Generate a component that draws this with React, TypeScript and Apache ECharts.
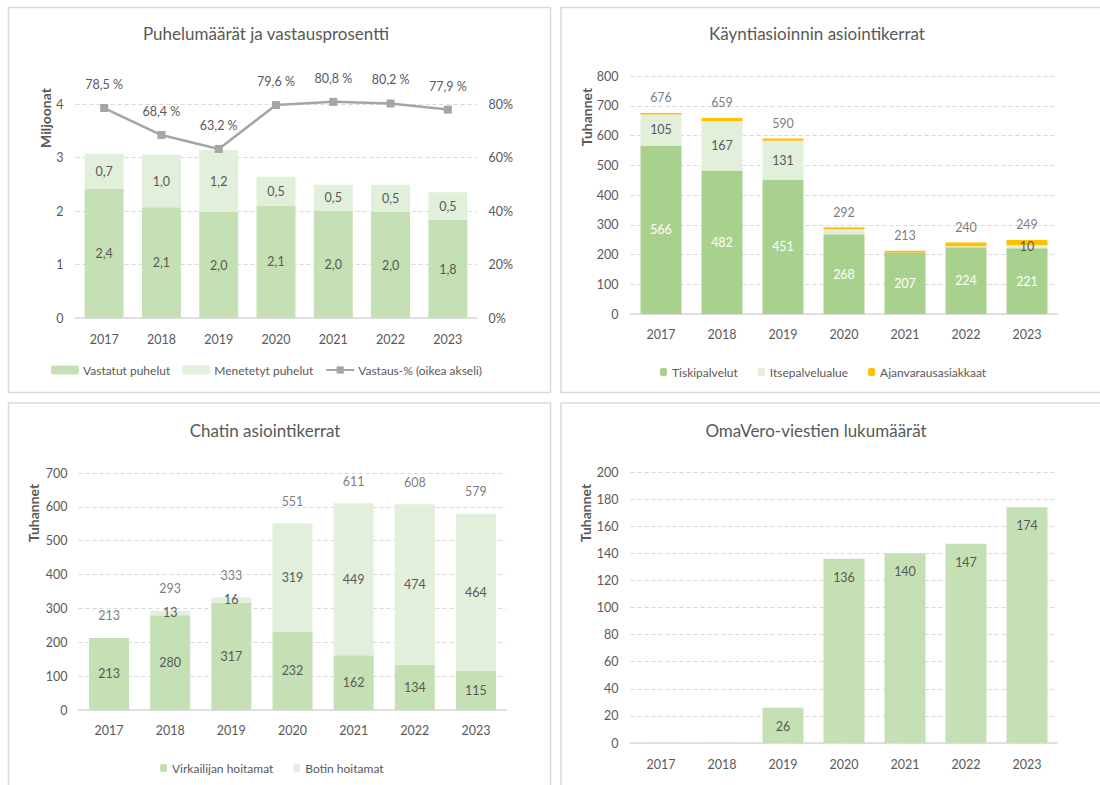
import React, { useEffect, useRef } from 'react';
import * as echarts from 'echarts';

const years = ['2017', '2018', '2019', '2020', '2021', '2022', '2023'];

// Puhelumäärät (miljoonat)
const vastatut = [2.41, 2.07, 1.98, 2.1, 2.0, 1.98, 1.83];
const menetetyt = [0.66, 0.98, 1.16, 0.54, 0.49, 0.51, 0.52];
const vastausPct = [78.5, 68.4, 63.2, 79.6, 80.8, 80.2, 77.9];

// Käyntiasiointi (tuhannet)
const tiski = [566, 482, 451, 268, 207, 224, 221];
const itse = [105, 167, 131, 17, 0, 4, 10];
const ajanvaraus = [5, 10, 8, 7, 6, 12, 18];
const kayntiTotals = [676, 659, 590, 292, 213, 240, 249];
const itseLabelShown = [true, true, true, false, false, false, true];

// Chat (tuhannet)
const virkailija = [213, 280, 317, 232, 162, 134, 115];
const botti = [0, 13, 16, 319, 449, 474, 464];
const chatTotals = [213, 293, 333, 551, 611, 608, 579];

// OmaVero (tuhannet)
const omaVero = [null, null, 26, 136, 140, 147, 174];

const FONT = 'Lato, "Open Sans", sans-serif';
const TXT = '#595959';
const GRIDC = '#d9d9d9';
const FS = 12.5;

const fi1 = (v: number) => v.toFixed(1).replace('.', ',');

function xAxis(gridIndex: number, margin: number) {
  return {
    type: 'category',
    gridIndex,
    data: years,
    axisLine: { lineStyle: { color: GRIDC, width: 1.5 } },
    axisTick: { show: false },
    axisLabel: { color: TXT, fontSize: FS, fontFamily: FONT, margin },
  };
}

function yAxis(gridIndex: number, max: number, interval: number, margin: number) {
  return {
    type: 'value',
    gridIndex,
    min: 0,
    max,
    interval,
    axisLine: { show: false },
    axisTick: { show: false },
    axisLabel: { color: TXT, fontSize: FS, fontFamily: FONT, margin },
    splitLine: { lineStyle: { color: GRIDC, type: [4, 3], width: 1 } },
  };
}

function txt(text: string, x: number, y: number, size: number, extra: any = {}) {
  return {
    type: 'text',
    x,
    y,
    silent: true,
    ...extra,
    style: {
      text,
      fill: TXT,
      font: `${extra.weight || 'normal'} ${size}px ${FONT}`,
      textAlign: 'center',
      textVerticalAlign: 'middle',
      align: 'center',
      verticalAlign: 'middle',
    },
  };
}

function panel(x: number, y: number, w: number, h: number) {
  return {
    type: 'rect',
    silent: true,
    shape: { x, y, width: w, height: h },
    style: { fill: 'none', stroke: GRIDC, lineWidth: 1.5 },
  };
}

const inLabel = (color: string, fmt: any) => ({
  show: true,
  position: 'inside',
  color,
  fontSize: FS,
  fontFamily: FONT,
  formatter: fmt,
});

export default function App() {
  const ref = useRef<HTMLDivElement>(null);

  useEffect(() => {
    if (!ref.current) return;
    const chart = echarts.init(ref.current, null, { renderer: 'svg' });
    const option: any = {
      animation: false,
      backgroundColor: '#ffffff',
      textStyle: { fontFamily: FONT },
      grid: [
        { left: 75.5, top: 104, width: 401, height: 214 },
        { left: 630.5, top: 76, width: 427, height: 238 },
        { left: 78.5, top: 473, width: 428, height: 237 },
        { left: 630.5, top: 472, width: 427, height: 271 },
      ],
      xAxis: [xAxis(0, 15), xAxis(1, 14), xAxis(2, 14), xAxis(3, 15)],
      yAxis: [
        { ...yAxis(0, 4, 1, 12) },
        {
          ...yAxis(0, 80, 20, 12),
          position: 'right',
          splitLine: { show: false },
          axisLabel: { color: TXT, fontSize: FS, fontFamily: FONT, margin: 12, formatter: (v: number) => v + '%' },
        },
        yAxis(1, 800, 100, 12),
        yAxis(2, 700, 100, 11),
        yAxis(3, 200, 20, 12),
      ],
      legend: [
        {
          left: 46,
          top: 359,
          itemWidth: 28,
          itemHeight: 9,
          itemGap: 12,
          selectedMode: false,
          data: ['Vastatut puhelut', 'Menetetyt puhelut', 'Vastaus-% (oikea akseli)'],
          textStyle: { color: TXT, fontSize: 12, fontFamily: FONT, padding: [0, 0, 0, -1] },
        },
        {
          left: 655,
          top: 361,
          itemWidth: 7,
          itemHeight: 8,
          itemGap: 20,
          selectedMode: false,
          data: ['Tiskipalvelut', 'Itsepalvelualue', 'Ajanvarausasiakkaat'],
          textStyle: { color: TXT, fontSize: 12, fontFamily: FONT },
        },
        {
          left: 155,
          top: 757,
          itemWidth: 7,
          itemHeight: 8,
          itemGap: 20,
          selectedMode: false,
          data: ['Virkailijan hoitamat', 'Botin hoitamat'],
          textStyle: { color: TXT, fontSize: 12, fontFamily: FONT },
        },
      ],
      series: [
        {
          name: 'Vastatut puhelut',
          type: 'bar',
          stack: 'puhelut',
          xAxisIndex: 0,
          yAxisIndex: 0,
          barWidth: 39,
          itemStyle: { color: '#c5e0b4' },
          label: inLabel(TXT, (p: any) => fi1(p.value)),
          data: vastatut,
        },
        {
          name: 'Menetetyt puhelut',
          type: 'bar',
          stack: 'puhelut',
          xAxisIndex: 0,
          yAxisIndex: 0,
          barWidth: 39,
          itemStyle: { color: '#e2efda' },
          label: inLabel(TXT, (p: any) => fi1(p.value)),
          data: menetetyt,
        },
        {
          name: 'Vastaus-% (oikea akseli)',
          type: 'line',
          xAxisIndex: 0,
          yAxisIndex: 1,
          clip: false,
          symbol: 'rect',
          symbolSize: 8,
          itemStyle: { color: '#a5a5a5' },
          lineStyle: { color: '#a5a5a5', width: 2.5 },
          label: {
            show: true,
            position: 'top',
            distance: 13,
            color: TXT,
            fontSize: FS,
            fontFamily: FONT,
            formatter: (p: any) => fi1(p.value) + ' %',
          },
          data: vastausPct,
          z: 5,
        },
        {
          name: 'Tiskipalvelut',
          type: 'bar',
          stack: 'kaynti',
          xAxisIndex: 1,
          yAxisIndex: 2,
          barWidth: 41,
          itemStyle: { color: '#a9d18e' },
          label: inLabel('#ffffff', (p: any) => String(p.value)),
          data: tiski,
        },
        {
          name: 'Itsepalvelualue',
          type: 'bar',
          stack: 'kaynti',
          xAxisIndex: 1,
          yAxisIndex: 2,
          barWidth: 41,
          itemStyle: { color: '#e2efda' },
          label: inLabel(TXT, (p: any) => (itseLabelShown[p.dataIndex] ? String(p.value) : '')),
          data: itse,
        },
        {
          name: 'Ajanvarausasiakkaat',
          type: 'bar',
          stack: 'kaynti',
          xAxisIndex: 1,
          yAxisIndex: 2,
          barWidth: 41,
          itemStyle: { color: '#ffc000' },
          data: ajanvaraus,
        },
        {
          name: 'kayntiYht',
          type: 'scatter',
          xAxisIndex: 1,
          yAxisIndex: 2,
          symbolSize: 1,
          silent: true,
          itemStyle: { color: 'rgba(0,0,0,0)' },
          label: { show: true, position: 'top', distance: 8, color: TXT, fontSize: FS, fontFamily: FONT },
          data: kayntiTotals,
        },
        {
          name: 'Virkailijan hoitamat',
          type: 'bar',
          stack: 'chat',
          xAxisIndex: 2,
          yAxisIndex: 3,
          barWidth: 40,
          itemStyle: { color: '#c5e0b4' },
          label: inLabel(TXT, (p: any) => String(p.value)),
          data: virkailija,
        },
        {
          name: 'Botin hoitamat',
          type: 'bar',
          stack: 'chat',
          xAxisIndex: 2,
          yAxisIndex: 3,
          barWidth: 40,
          itemStyle: { color: '#e2efda' },
          label: inLabel(TXT, (p: any) => (p.value ? String(p.value) : '')),
          data: botti,
        },
        {
          name: 'chatYht',
          type: 'scatter',
          xAxisIndex: 2,
          yAxisIndex: 3,
          symbolSize: 1,
          silent: true,
          itemStyle: { color: 'rgba(0,0,0,0)' },
          label: { show: true, position: 'top', distance: 15, color: TXT, fontSize: FS, fontFamily: FONT },
          data: chatTotals,
        },
        {
          name: 'OmaVero-viestit',
          type: 'bar',
          xAxisIndex: 3,
          yAxisIndex: 4,
          barWidth: 41,
          itemStyle: { color: '#c5e0b4' },
          label: {
            show: true,
            position: 'insideTop',
            distance: 12,
            color: TXT,
            fontSize: FS,
            fontFamily: FONT,
          },
          data: omaVero,
        },
      ],
      graphic: [
        panel(8.5, 7.5, 542, 385),
        panel(561, 7.5, 560, 385),
        panel(8.5, 403, 542, 400),
        panel(561, 403, 560, 400),
        txt('Puhelumäärät ja vastausprosentti', 266, 33, 17),
        txt('Käyntiasioinnin asiointikerrat', 817, 33, 17),
        txt('Chatin asiointikerrat', 265, 430, 17),
        txt('OmaVero-viestien lukumäärät', 816, 430, 17),
        txt('Miljoonat', 45, 118, 14, { rotation: Math.PI / 2, weight: 'bold' }),
        txt('Tuhannet', 586, 117, 14, { rotation: Math.PI / 2, weight: 'bold' }),
        txt('Tuhannet', 33, 513, 14, { rotation: Math.PI / 2, weight: 'bold' }),
        txt('Tuhannet', 585, 513, 14, { rotation: Math.PI / 2, weight: 'bold' }),
      ],
    };
    chart.setOption(option);
    return () => chart.dispose();
  }, []);

  return (
    <div
      ref={ref}
      style={{ position: 'absolute', left: 0, top: 0, width: 1100, height: 785 }}
    />
  );
}
